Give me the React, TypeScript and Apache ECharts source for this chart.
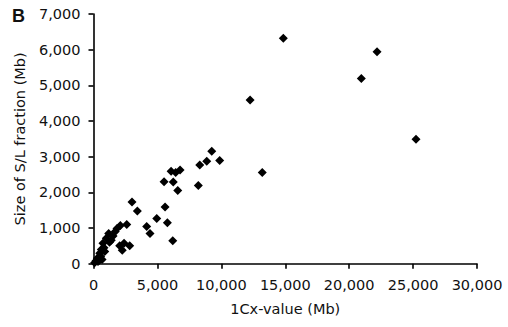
import React, { useEffect, useRef } from "react";
import * as echarts from "echarts";

const xValues = [
  14850, 22180, 20950, 25230, 12250, 13200, 9250, 9870, 8860, 8310, 8200,
  6070, 6430, 6770, 5520, 6240, 6590, 5600, 4950, 5780, 6200, 3010, 3430,
  4160, 4420, 2600, 2100, 2390, 2830, 2250, 2050, 1840, 1530, 1190, 1000,
  1390, 740, 610, 880, 490, 300, 670, 90, 350, 1700, 1250, 820, 560, 200, 450,
];
const yValues = [
  6320, 5940, 5190, 3490, 4590, 2560, 3150, 2890, 2870, 2770, 2190,
  2590, 2560, 2630, 2300, 2290, 2050, 1590, 1270, 1150, 640, 1730, 1480,
  1040, 850, 1100, 1070, 570, 500, 380, 500, 990, 780, 850, 710,
  660, 570, 400, 340, 290, 150, 120, 30, 60, 900, 600, 450, 200, 80, 100,
];
const xTicks = [0, 5000, 10000, 15000, 20000, 25000, 30000];
const yTicks = [0, 1000, 2000, 3000, 4000, 5000, 6000, 7000];

const fmt = (v: number) => v.toLocaleString("en-US");

export default function App() {
  const ref = useRef<HTMLDivElement>(null);
  useEffect(() => {
    if (!ref.current) return;
    const chart = echarts.init(ref.current, null, { renderer: "svg" });
    const font = "DejaVu Sans";
    chart.setOption({
      animation: false,
      backgroundColor: "#fff",
      textStyle: { fontFamily: font },
      grid: { left: 93.5, right: 31, top: 14, bottom: 63.3 },
      graphic: [
        {
          type: "text",
          left: 12,
          top: 7,
          style: {
            text: "B",
            font: "bold 18px 'Liberation Sans', Arial, sans-serif",
            fill: "#111",
          },
        },
      ],
      xAxis: {
        type: "value",
        min: xTicks[0],
        max: xTicks[xTicks.length - 1],
        interval: 5000,
        name: "1Cx-value (Mb)",
        nameLocation: "middle",
        nameGap: 38,
        nameTextStyle: { fontSize: 14.5, color: "#111", fontFamily: font },
        splitLine: { show: false },
        axisLine: { lineStyle: { color: "#000", width: 1.6 } },
        axisTick: { show: true, length: 5, inside: false, lineStyle: { color: "#000", width: 1.6 } },
        axisLabel: { fontSize: 14.5, color: "#111", margin: 14, formatter: fmt, fontFamily: font },
      },
      yAxis: {
        type: "value",
        min: yTicks[0],
        max: yTicks[yTicks.length - 1],
        interval: 1000,
        name: "Size of S/L fraction (Mb)",
        nameLocation: "middle",
        nameGap: 66,
        nameTextStyle: { fontSize: 14.5, color: "#111", fontFamily: font },
        splitLine: { show: false },
        axisLine: { show: true, lineStyle: { color: "#000", width: 1.6 } },
        axisTick: { show: true, length: 5, inside: false, lineStyle: { color: "#000", width: 1.6 } },
        axisLabel: { fontSize: 14.5, color: "#111", margin: 13, formatter: fmt, fontFamily: font },
      },
      series: [
        {
          type: "scatter",
          symbol: "diamond",
          symbolSize: 9,
          itemStyle: { color: "#000", opacity: 1 },
          data: xValues.map((x, i) => [x, yValues[i]]),
        },
      ],
    });
    return () => chart.dispose();
  }, []);
  return (
    <div
      ref={ref}
      style={{ position: "fixed", left: 0, top: 0, width: 508, height: 327 }}
    />
  );
}
